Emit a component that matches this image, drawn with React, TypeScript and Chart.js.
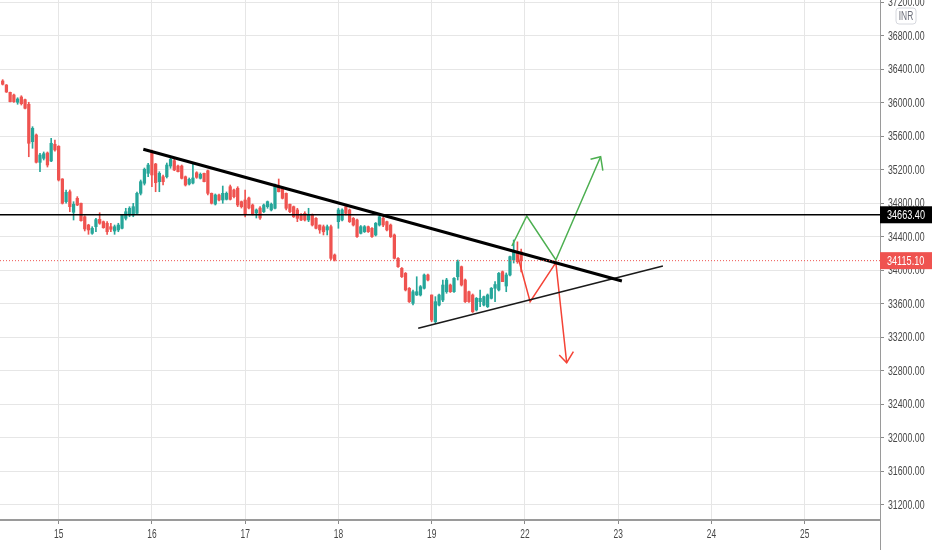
import { useEffect, useRef } from "react";
import { Chart, registerables } from "chart.js";

Chart.register(...registerables);

// 15-minute candles, index 1..140 (day 14 tail, then days 15,16,17,18,19)
const opens = [
  36262, 36214, 36127, 36095, 36008, 36071, 36039, 35984, 35537, 35617,
  35290, 35338, 35402, 35306, 35506, 35482, 35091, 34820, 34939, 34693,
  34860, 34801, 34640, 34541, 34442, 34521, 34609, 34581, 34562, 34521,
  34469, 34482, 34502, 34621, 34661, 34661, 34681, 34920, 35040, 35159,
  35417, 35270, 35059, 35118, 35118, 35246, 35310, 35246, 35246, 35118,
  35031, 35043, 35166, 35099, 35159, 35190, 34920, 34792, 34900, 34840,
  34848, 34999, 34960, 34980, 34820, 34840, 34864, 34780, 34685, 34744,
  34700, 34760, 34721, 34741, 34999, 34980, 34920, 34789, 34760, 34721,
  34669, 34681, 34601, 34661, 34621, 34541, 34521, 34482, 34521, 34183,
  34581, 34601, 34760, 34721, 34621, 34601, 34442, 34461, 34521, 34502,
  34422, 34541, 34621, 34581, 34541, 34422, 34143, 34024, 33964, 33785,
  33606, 33705, 33705, 33785, 33944, 33705, 33386, 33585, 33645, 33744,
  33824, 33744, 33923, 34043, 33884, 33744, 33705, 33526, 33625, 33585,
  33565, 33665, 33785, 33765, 33983, 33812, 33944, 34123, 34210, 34219,
];
const highs = [
  36278, 36220, 36131, 36107, 36062, 36086, 36047, 36008, 35716, 35629,
  35398, 35414, 35414, 35577, 35557, 35489, 35095, 34960, 34960, 34820,
  34880, 34804, 34652, 34550, 34521, 34621, 34688, 34589, 34581, 34562,
  34541, 34562, 34669, 34741, 34760, 34800, 34936, 35079, 35222, 35278,
  35438, 35278, 35178, 35139, 35282, 35338, 35326, 35258, 35258, 35127,
  35103, 35278, 35178, 35163, 35163, 35199, 34924, 34912, 34912, 35007,
  34936, 35019, 34971, 34999, 34828, 34960, 34876, 34792, 34733, 34760,
  34792, 34828, 34804, 35031, 35091, 34995, 34924, 34792, 34768, 34741,
  34679, 34700, 34741, 34673, 34631, 34541, 34541, 34541, 34541, 34195,
  34741, 34733, 34760, 34733, 34631, 34613, 34535, 34535, 34529, 34511,
  34571, 34649, 34640, 34589, 34553, 34434, 34153, 34033, 33974, 33794,
  33765, 33923, 33818, 33956, 33956, 33705, 33685, 33717, 33884, 33904,
  33836, 33914, 34123, 34051, 33896, 33753, 33717, 33675, 33765, 33693,
  33717, 33794, 33864, 33974, 33992, 33968, 34171, 34362, 34340, 34254,
];
const lows = [
  36214, 36125, 36011, 36005, 35984, 35975, 35928, 35357, 35458, 35282,
  35178, 35318, 35234, 35298, 35425, 35067, 34792, 34801, 34700, 34601,
  34772, 34586, 34470, 34430, 34430, 34461, 34550, 34502, 34430, 34461,
  34430, 34461, 34494, 34601, 34640, 34640, 34673, 34900, 35019, 35119,
  34999, 34939, 34939, 35019, 35103, 35219, 35190, 35175, 35091, 35007,
  35019, 35031, 35099, 35091, 35055, 34900, 34792, 34780, 34828, 34801,
  34840, 34840, 34864, 34760, 34744, 34637, 34733, 34661, 34625, 34609,
  34690, 34741, 34709, 34733, 34936, 34852, 34721, 34690, 34631, 34581,
  34593, 34589, 34581, 34529, 34494, 34442, 34422, 34422, 34123, 34111,
  34502, 34589, 34661, 34571, 34529, 34392, 34434, 34452, 34452, 34392,
  34410, 34529, 34521, 34470, 34392, 34135, 34033, 33914, 33753, 33615,
  33585, 33699, 33693, 33776, 33872, 33386, 33367, 33573, 33625, 33725,
  33735, 33735, 33884, 33812, 33615, 33615, 33496, 33514, 33565, 33573,
  33555, 33657, 33625, 33753, 33864, 33744, 33932, 34087, 34083, 33980,
];
const closes = [
  36223, 36131, 36015, 36015, 36047, 35991, 35936, 35518, 35697, 35291,
  35378, 35393, 35258, 35518, 35438, 35079, 34801, 34932, 34760, 34789,
  34780, 34593, 34494, 34482, 34502, 34605, 34562, 34509, 34461, 34490,
  34521, 34541, 34661, 34700, 34741, 34760, 34920, 35059, 35207, 35258,
  35139, 35047, 35159, 35059, 35258, 35326, 35199, 35178, 35099, 35019,
  35087, 35103, 35111, 35147, 35059, 34920, 34801, 34900, 34840, 34920,
  34920, 34848, 34880, 34780, 34760, 34673, 34744, 34673, 34721, 34625,
  34780, 34820, 34789, 35019, 34939, 34860, 34741, 34700, 34640, 34621,
  34601, 34601, 34661, 34541, 34502, 34482, 34461, 34521, 34143, 34123,
  34721, 34721, 34681, 34581, 34541, 34402, 34521, 34521, 34461, 34402,
  34562, 34640, 34541, 34482, 34402, 34143, 34043, 33923, 33765, 33625,
  33744, 33744, 33804, 33944, 33884, 33406, 33625, 33705, 33824, 33884,
  33744, 33904, 34103, 33824, 33625, 33625, 33505, 33665, 33665, 33685,
  33705, 33785, 33830, 33964, 33864, 33944, 34163, 34222, 34103, 34115.1,
];

// x axis: candle index of the first candle of each day, and its label
const dayTickIndex = [16, 41, 66, 91, 116, 141, 166, 191, 216];
const dayTickLabels = ["15", "16", "17", "18", "19", "22", "23", "24", "25"];
const priceTicks = [
  31200, 31600, 32000, 32400, 32800, 33200, 33600, 34000, 34400, 34800,
  35200, 35600, 36000, 36400, 36800, 37200,
];

const resistanceLevel = 34663.4;
const lastPrice = 34115.1;

// drawn annotations (candle index, price)
const trendX = [38.7, 167.0];
const trendY = [35446, 33872];
const supportX = [112.4, 178.0];
const supportY = [33307, 34051];
const bullPathX = [137.5, 141.5, 149.3, 161.3];
const bullPathY = [34290, 34649, 34123, 35357];
const bullHeadX = [158.6, 161.3, 161.9];
const bullHeadY = [35326, 35357, 35190];
const bearPathX = [139.0, 142.4, 149.3, 152.2];
const bearPathY = [34183, 33625, 34091, 32896];
const bearHeadX = [150.2, 152.2, 154.0];
const bearHeadY = [32988, 32896, 33027];

const X_MIN = 0.28;
const X_MAX = 236.2;
const Y_MIN = 31016;
const Y_MAX = 37230;

const GREEN = "#26a69a";
const RED = "#ef5350";
const FONT = "'Liberation Sans', Arial, sans-serif";
const SQUEEZE = 0.7;

function lineSet(xs: number[], ys: number[], color: string, width: number, dash: number[] = []) {
  return {
    type: "line" as const,
    data: xs.map((x, i) => ({ x, y: ys[i] })),
    borderColor: color,
    borderWidth: width,
    borderDash: dash,
    pointRadius: 0,
    fill: false,
    tension: 0,
    order: 0,
  };
}

function narrowText(ctx: CanvasRenderingContext2D, text: string, x: number, y: number, align: CanvasTextAlign) {
  ctx.save();
  ctx.translate(x, y);
  ctx.scale(SQUEEZE, 1);
  ctx.textAlign = align;
  ctx.textBaseline = "middle";
  ctx.fillText(text, 0, 0);
  ctx.restore();
}

const overlayPlugin = {
  id: "overlay",
  afterDraw(chart: any) {
    const { ctx, chartArea, scales } = chart;
    const y = scales.y;
    const x = scales.x;
    ctx.save();
    // price axis labels
    ctx.fillStyle = "#474747";
    ctx.font = `12.5px ${FONT}`;
    priceTicks.forEach((v) => {
      narrowText(ctx, v.toFixed(2), chartArea.right + 8, y.getPixelForValue(v) + 0.5, "left");
    });
    // time axis labels
    ctx.font = `12px ${FONT}`;
    dayTickIndex.forEach((v, i) => {
      narrowText(ctx, dayTickLabels[i], x.getPixelForValue(v), chartArea.bottom + 15, "center");
    });
    const tag = (price: number, bg: string) => {
      const py = y.getPixelForValue(price);
      ctx.fillStyle = bg;
      ctx.fillRect(chartArea.right, py - 8.5, 52, 17);
      ctx.fillStyle = "#ffffff";
      ctx.font = `13px ${FONT}`;
      narrowText(ctx, price.toFixed(2), chartArea.right + 7, py + 0.5, "left");
    };
    tag(resistanceLevel, "#000000");
    tag(lastPrice, RED);
    // currency badge
    const bx = 896, by = 8, bw = 20, bh = 16, r = 3;
    ctx.beginPath();
    ctx.moveTo(bx + r, by);
    ctx.lineTo(bx + bw - r, by);
    ctx.quadraticCurveTo(bx + bw, by, bx + bw, by + r);
    ctx.lineTo(bx + bw, by + bh - r);
    ctx.quadraticCurveTo(bx + bw, by + bh, bx + bw - r, by + bh);
    ctx.lineTo(bx + r, by + bh);
    ctx.quadraticCurveTo(bx, by + bh, bx, by + bh - r);
    ctx.lineTo(bx, by + r);
    ctx.quadraticCurveTo(bx, by, bx + r, by);
    ctx.closePath();
    ctx.fillStyle = "#ffffff";
    ctx.fill();
    ctx.strokeStyle = "#d6d8de";
    ctx.lineWidth = 1;
    ctx.stroke();
    ctx.fillStyle = "#6a6d78";
    ctx.font = `12px ${FONT}`;
    narrowText(ctx, "INR", bx + bw / 2, by + bh / 2 + 0.5, "center");
    // axis line continuing into the time axis area
    ctx.strokeStyle = "#9a9a9a";
    ctx.lineWidth = 1;
    ctx.beginPath();
    ctx.moveTo(chartArea.right + 0.5, chartArea.bottom);
    ctx.lineTo(chartArea.right + 0.5, chart.height);
    ctx.stroke();
    ctx.restore();
  },
};

export default function App() {
  const ref = useRef<HTMLCanvasElement | null>(null);

  useEffect(() => {
    if (!ref.current) return;
    const idx = opens.map((_, i) => i + 1);
    const colors = idx.map((_, i) => (closes[i] >= opens[i] ? GREEN : RED));
    const chart = new Chart(ref.current, {
      type: "bar",
      data: {
        datasets: [
          {
            type: "bar",
            data: idx.map((x, i) => ({ x, y: [lows[i], highs[i]] })) as any,
            backgroundColor: colors,
            barThickness: 1,
            grouped: false,
            order: 3,
          } as any,
          {
            type: "bar",
            data: idx.map((x, i) => ({
              x,
              y: [Math.min(opens[i], closes[i]), Math.max(opens[i], closes[i])],
            })) as any,
            backgroundColor: colors,
            barThickness: 2.6,
            minBarLength: 1,
            grouped: false,
            order: 2,
          } as any,
          lineSet([X_MIN, X_MAX], [resistanceLevel, resistanceLevel], "#000000", 1.5),
          lineSet([X_MIN, X_MAX], [lastPrice, lastPrice], RED, 1, [1, 2]),
          lineSet(trendX, trendY, "#000000", 3),
          lineSet(supportX, supportY, "#1a1a1a", 1.5),
          lineSet(bullPathX, bullPathY, "#4caf50", 1.5),
          lineSet(bullHeadX, bullHeadY, "#4caf50", 1.5),
          lineSet(bearPathX, bearPathY, "#f44336", 1.5),
          lineSet(bearHeadX, bearHeadY, "#f44336", 1.5),
        ] as any,
      },
      options: {
        animation: false,
        responsive: false,
        maintainAspectRatio: false,
        events: [],
        layout: { padding: 0 },
        plugins: { legend: { display: false }, tooltip: { enabled: false } },
        scales: {
          x: {
            type: "linear",
            min: X_MIN,
            max: X_MAX,
            offset: false,
            afterBuildTicks: (s: any) => {
              s.ticks = dayTickIndex.map((v) => ({ value: v }));
            },
            afterFit: (s: any) => {
              s.height = 30;
              s.paddingLeft = 0;
              s.paddingRight = 0;
            },
            ticks: { display: false, autoSkip: false },
            grid: { offset: false, color: "#e6e6e6", tickColor: "#8a8a8a", tickLength: 4, lineWidth: 1 },
            border: { color: "#9a9a9a", width: 2 },
          },
          y: {
            type: "linear",
            position: "right",
            min: Y_MIN,
            max: Y_MAX,
            afterBuildTicks: (s: any) => {
              s.ticks = priceTicks.map((v) => ({ value: v }));
            },
            afterFit: (s: any) => {
              s.width = 52;
              s.paddingTop = 0;
              s.paddingBottom = 0;
            },
            ticks: { display: false, autoSkip: false },
            grid: { color: "#e6e6e6", tickColor: "#8a8a8a", tickLength: 4, lineWidth: 1 },
            border: { color: "#9a9a9a", width: 1 },
          },
        },
      } as any,
      plugins: [overlayPlugin],
    });
    return () => chart.destroy();
  }, []);

  return (
    <div style={{ position: "fixed", left: 0, top: 0, width: 932, height: 550, background: "#ffffff" }}>
      <canvas ref={ref} width={932} height={550} style={{ width: 932, height: 550, display: "block" }} />
    </div>
  );
}
